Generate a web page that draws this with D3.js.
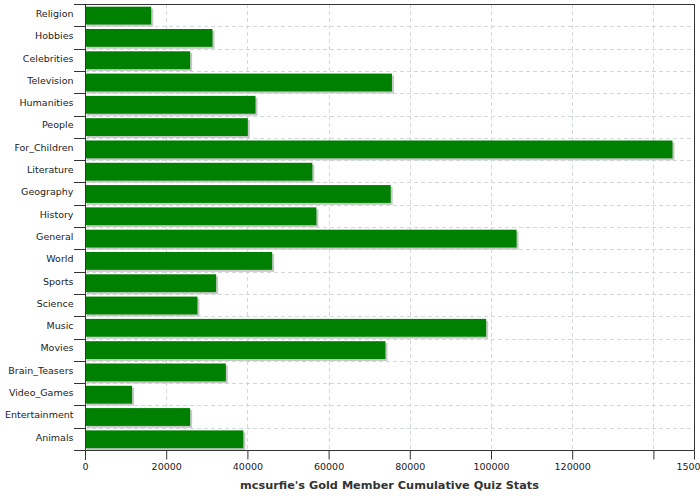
<!DOCTYPE html>
<html>
<head>
<meta charset="utf-8">
<script src="https://cdn.jsdelivr.net/npm/d3@7/dist/d3.min.js"></script>
<style>
  html, body { margin: 0; padding: 0; background: #fff; }
  svg { display: block; }
</style>
</head>
<body>
<script>
const categories = ["Religion","Hobbies","Celebrities","Television","Humanities","People","For_Children","Literature","Geography","History","General","World","Sports","Science","Music","Movies","Brain_Teasers","Video_Games","Entertainment","Animals"];
const values = [16300,31400,25900,75600,42000,40100,144700,56000,75300,57000,106300,46100,32300,27700,98800,74000,34700,11600,25900,39000];
const xTickValues = [0,20000,40000,60000,80000,100000,120000,140000,150000];
const xTickLabels = ["0","20000","40000","60000","80000","100000","120000","","150000"];
const chartTitle = "mcsurfie's Gold Member Cumulative Quiz Stats";

(function () {
const W = 700, H = 500;
const pL = 85, pR = 694, pT = 4, pB = 450;
const font = "'DejaVu Sans', Verdana, sans-serif";

const svg = d3.select("body").append("svg").attr("width", W).attr("height", H);

const x = d3.scaleLinear().domain([0, 150000]).range([pL, pR]);
const y = d3.scaleBand().domain(categories).range([pT, pB]).padding(0);
const step = y.step();

// grid
const grid = svg.append("g").attr("stroke", "#d3d9dd").attr("stroke-dasharray", "4,3").attr("stroke-width", 1);
xTickValues.filter(v => v > 0 && v < 150000).forEach(v => {
  grid.append("line").attr("x1", Math.round(x(v)) + 0.5).attr("x2", Math.round(x(v)) + 0.5)
    .attr("y1", pT).attr("y2", pB);
});
const boundaries = categories.map(c => y(c)).concat([pB]);
boundaries.slice(1, -1).forEach(b => {
  grid.append("line").attr("x1", pL).attr("x2", pR)
    .attr("y1", Math.round(b) + 0.5).attr("y2", Math.round(b) + 0.5);
});

// bars with shadow
const barG = svg.append("g");
categories.forEach((c, i) => {
  const by = y(c) + step * 0.12, bh = step * 0.8;
  barG.append("rect").attr("x", x(0) + 2).attr("y", by + 2)
    .attr("width", x(values[i]) - x(0)).attr("height", bh).attr("fill", "#c8c8c8");
  barG.append("rect").attr("x", x(0)).attr("y", by)
    .attr("width", x(values[i]) - x(0)).attr("height", bh).attr("fill", "#008000");
});

// frame top & right
svg.append("line").attr("x1", pL).attr("x2", pR + 0.5).attr("y1", pT + 0.5).attr("y2", pT + 0.5).attr("stroke", "#333");
svg.append("line").attr("x1", pR + 0.5).attr("x2", pR + 0.5).attr("y1", pT).attr("y2", pB).attr("stroke", "#333");

// x axis
const xAxis = d3.axisBottom(x).tickValues(xTickValues).tickSize(9).tickPadding(4)
  .tickFormat((d, i) => xTickLabels[i]);
const gx = svg.append("g").attr("transform", `translate(0,${pB + 0.5})`).call(xAxis);
gx.select(".domain").remove();
gx.append("line").attr("x1", pL - 11).attr("x2", pR + 0.5).attr("y1", 0).attr("y2", 0).attr("stroke", "#333");
gx.selectAll(".tick line").attr("stroke", "#333");
gx.selectAll(".tick text").attr("fill", "#222").style("font-family", font).style("font-size", "9.5px");

// y axis: labels centered in bands
const yAxis = d3.axisLeft(y).tickSize(0).tickPadding(12);
const gy = svg.append("g").attr("transform", `translate(${pL + 0.5},-1.2)`).call(yAxis);
gy.select(".domain").remove();
gy.selectAll(".tick text").attr("fill", "#222").style("font-family", font).style("font-size", "9.5px");
svg.append("line").attr("x1", pL + 0.5).attr("x2", pL + 0.5).attr("y1", pT).attr("y2", pB + 10).attr("stroke", "#333");
boundaries.forEach(b => {
  svg.append("line").attr("x1", pL - 11).attr("x2", pL).attr("y1", Math.round(b) + 0.5).attr("y2", Math.round(b) + 0.5).attr("stroke", "#333");
});

// title
svg.append("text").attr("x", (pL + pR) / 2).attr("y", 489).attr("text-anchor", "middle")
  .style("font-family", font).style("font-size", "11.3px").style("font-weight", "bold").attr("fill", "#333")
  .text(chartTitle);
})();
</script>
</body>
</html>
